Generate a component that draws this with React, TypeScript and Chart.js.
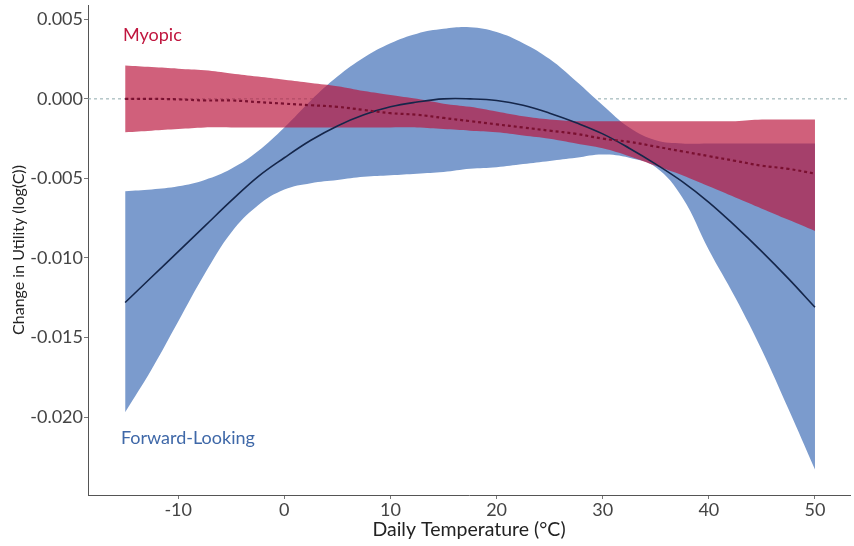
import React, { useEffect, useRef } from "react";
import { Chart, registerables } from "chart.js";

Chart.register(...registerables);

const temps = [-15, -12.5, -10, -7.5, -5, -2.5, 0, 2.5, 5, 7.5, 10, 12.5, 15, 17.5, 20, 22.5, 25, 27.5, 30, 32.5, 35, 37.5, 40, 42.5, 45, 47.5, 50];

const forwardUpper = [-0.0058, -0.0057, -0.0055, -0.0051, -0.0044, -0.0033, -0.0018, -0.0001, 0.0014, 0.0026, 0.0035, 0.0041, 0.0044, 0.0045, 0.0042, 0.0035, 0.0025, 0.0011, -0.0004, -0.0018, -0.0026, -0.0028, -0.0028, -0.0028, -0.0028, -0.0028, -0.0028];
const forwardLower = [-0.0197, -0.017, -0.014, -0.011, -0.0084, -0.0067, -0.0057, -0.0053, -0.0051, -0.0049, -0.0048, -0.0047, -0.0046, -0.0044, -0.0043, -0.0041, -0.0039, -0.0037, -0.0035, -0.0037, -0.0043, -0.0062, -0.0095, -0.0125, -0.0158, -0.0195, -0.0233];
const forwardMid = [-0.0128, -0.0112, -0.0096, -0.008, -0.0064, -0.0049, -0.0037, -0.0026, -0.0017, -0.001, -0.0005, -0.0002, 0.0, 0.0, -0.0001, -0.0004, -0.0009, -0.0015, -0.0022, -0.0031, -0.0041, -0.0052, -0.0065, -0.008, -0.0096, -0.0113, -0.0131];

const myopicUpper = [0.0021, 0.002, 0.0019, 0.0018, 0.0016, 0.0014, 0.0012, 0.001, 0.0008, 0.0005, 0.00025, 0.0, -0.0003, -0.0005, -0.0008, -0.0011, -0.0013, -0.0014, -0.0014, -0.0014, -0.0014, -0.0014, -0.0014, -0.0014, -0.0013, -0.0013, -0.0013];
const myopicLower = [-0.0021, -0.002, -0.0019, -0.0018, -0.0018, -0.0018, -0.0018, -0.0018, -0.0018, -0.0018, -0.0018, -0.0018, -0.0019, -0.002, -0.0021, -0.0023, -0.0025, -0.0028, -0.0031, -0.0036, -0.0042, -0.0048, -0.0055, -0.0062, -0.0069, -0.0076, -0.0083];
const myopicMid = [0.0, 0.0, -0.00003, -0.0001, -0.0001, -0.0002, -0.0003, -0.0004, -0.0005, -0.0007, -0.0009, -0.001, -0.0012, -0.0014, -0.0016, -0.0018, -0.002, -0.0022, -0.0025, -0.0027, -0.003, -0.0033, -0.0036, -0.0039, -0.0042, -0.0044, -0.0047];

const xTicks = [-10, 0, 10, 20, 30, 40, 50];
const yTicks = [0.005, 0.0, -0.005, -0.01, -0.015, -0.02];

const labelMyopic = "Myopic";
const labelForward = "Forward-Looking";

const pts = (ys: number[]) => temps.map((x, i) => ({ x, y: ys[i] }));

const FONT = "Lato, 'Open Sans', sans-serif";

export default function App() {
  const ref = useRef<HTMLCanvasElement | null>(null);
  useEffect(() => {
    if (!ref.current) return;
    const zeroLine = {
      id: "zeroLine",
      beforeDatasetsDraw(chart: any) {
        const { ctx, chartArea, scales } = chart;
        const y = scales.y.getPixelForValue(0);
        ctx.save();
        ctx.strokeStyle = "#8fa9ad";
        ctx.lineWidth = 1;
        ctx.setLineDash([3, 3]);
        ctx.beginPath();
        ctx.moveTo(chartArea.left, y);
        ctx.lineTo(chartArea.right, y);
        ctx.stroke();
        ctx.restore();
      },
    };
    const labels = {
      id: "labels",
      afterDatasetsDraw(chart: any) {
        const { ctx, scales } = chart;
        ctx.save();
        ctx.font = `18px ${FONT}`;
        ctx.textBaseline = "middle";
        ctx.textAlign = "left";
        ctx.fillStyle = "#c0173f";
        ctx.fillText(labelMyopic, scales.x.getPixelForValue(-15.2), scales.y.getPixelForValue(0.004));
        ctx.fillStyle = "#3f68a8";
        ctx.fillText(labelForward, scales.x.getPixelForValue(-15.4), scales.y.getPixelForValue(-0.0213));
        ctx.restore();
      },
    };
    const base = {
      pointRadius: 0,
      pointHoverRadius: 0,
      tension: 0.4,
    };
    const chart = new Chart(ref.current, {
      type: "line",
      data: {
        datasets: [
          { ...base, label: "fl", data: pts(forwardLower), borderWidth: 0, borderColor: "rgba(0,0,0,0)", fill: false, order: 6 },
          { ...base, label: "fu", data: pts(forwardUpper), borderWidth: 0, borderColor: "rgba(0,0,0,0)", backgroundColor: "rgb(123,155,205)", fill: 0, order: 5 },
          { ...base, label: "ml", data: pts(myopicLower), borderWidth: 0, borderColor: "rgba(0,0,0,0)", fill: false, order: 4 },
          { ...base, label: "mu", data: pts(myopicUpper), borderWidth: 0, borderColor: "rgba(0,0,0,0)", backgroundColor: "rgba(185,20,60,0.68)", fill: 2, order: 3 },
          { ...base, label: "fm", data: pts(forwardMid), borderWidth: 1.6, borderColor: "#15264a", fill: false, order: 2 },
          { ...base, label: "mm", data: pts(myopicMid), borderWidth: 2.2, borderColor: "#7a1030", borderDash: [3, 3], fill: false, order: 1 },
        ],
      },
      options: {
        animation: false,
        responsive: false,
        maintainAspectRatio: false,
        layout: { padding: { top: 5, right: 4, left: 0, bottom: 0 } },
        plugins: { legend: { display: false }, tooltip: { enabled: false } },
        scales: {
          x: {
            type: "linear",
            min: -18.5,
            max: 53.3,
            afterFit: (s: any) => { s.height = 51; s.paddingLeft = 0; s.paddingRight = 0; },
            afterBuildTicks: (s: any) => { s.ticks = xTicks.map((v) => ({ value: v })); },
            grid: { display: true, drawOnChartArea: false, tickLength: 4, color: "#777" },
            border: { display: true, color: "#555", width: 1 },
            ticks: { color: "#444", font: { family: FONT, size: 18 }, padding: 0, callback: (v: any) => String(v) },
            title: { display: true, text: "Daily Temperature (°C)", color: "#222", font: { family: FONT, size: 19.5 }, padding: { top: 5, bottom: 5 } },
          },
          y: {
            type: "linear",
            min: -0.0249,
            max: 0.0059,
            afterFit: (s: any) => { s.width = 88; s.paddingTop = 0; s.paddingBottom = 0; },
            afterBuildTicks: (s: any) => { s.ticks = yTicks.map((v) => ({ value: v })); },
            grid: { display: true, drawOnChartArea: false, tickLength: 4, color: "#777" },
            border: { display: true, color: "#555", width: 1 },
            ticks: { color: "#444", font: { family: FONT, size: 18 }, padding: 1, callback: (v: any) => Number(v).toFixed(3) },
            title: { display: true, text: "Change in Utility (log(C))", color: "#222", font: { family: FONT, size: 16 }, padding: { top: 9, bottom: 9 } },
          },
        },
      },
      plugins: [zeroLine, labels],
    });
    return () => chart.destroy();
  }, []);
  return (
    <div style={{ position: "fixed", left: 0, top: 0, width: 854, height: 546, background: "#fff" }}>
      <canvas ref={ref} width={854} height={546} style={{ width: 854, height: 546 }} />
    </div>
  );
}
